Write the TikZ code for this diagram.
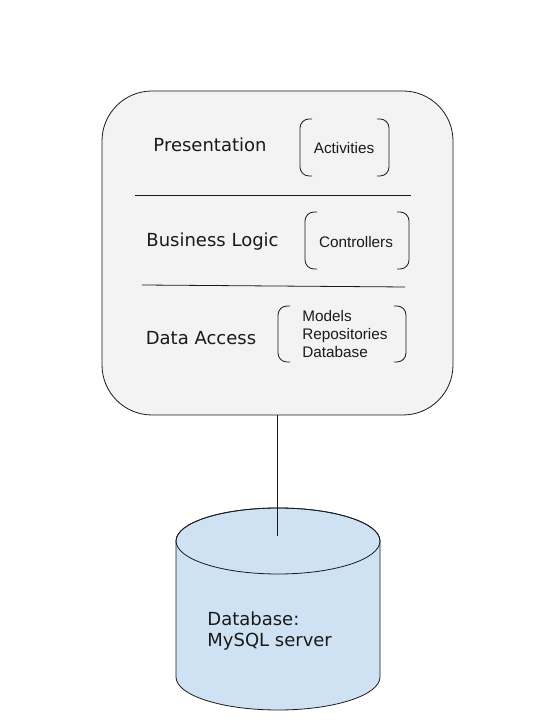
\documentclass[tikz,border=0pt]{standalone}
\usepackage{fontspec}
\newfontfamily\layerfont{DejaVu Sans}
\newfontfamily\itemfont{Liberation Sans}
\definecolor{boxgray}{HTML}{F3F3F3}
\definecolor{dbblue}{HTML}{CFE2F3}
\definecolor{inkc}{HTML}{1A1A1A}
\begin{document}
\begin{tikzpicture}[x=1pt,y=1pt,
  line width=0.8pt,
  appbox/.style={draw=inkc,fill=boxgray,rounded corners=50pt,minimum width=351pt,minimum height=324pt,inner sep=0pt},
  layer/.style={font=\layerfont\fontsize{18}{21}\selectfont,text=inkc,inner sep=0pt},
  item/.style={font=\itemfont\fontsize{15.3}{18}\selectfont,text=inkc,inner sep=0pt,align=left},
  divider/.style={draw=inkc,line width=0.8pt},
  brk/.style={draw=inkc,rounded corners=9pt,line width=0.8pt},
  dbshape/.style={draw=inkc,fill=dbblue,line width=0.8pt},
  dblabel/.style={font=\layerfont\fontsize{18}{21}\selectfont,text=inkc,inner sep=0pt,align=left,anchor=north west}
]
\useasboundingbox (0,0) rectangle (547,727);
\fill[white] (0,0) rectangle (547,727);

% main application box
\node[appbox] (app) at (277.5,474) {};

% dividers
\coordinate (d1l) at (135,532);
\coordinate (d1r) at (411,532);
\coordinate (d2l) at (142,442);
\coordinate (d2r) at (405,440);
\draw[divider] (d1l) -- (d1r);
\draw[divider] (d2l) -- (d2r);

% layer labels
\node[layer] (pres) at (210,582) {Presentation};
\node[layer] (bl) at (212.5,485) {Business Logic};
\node[layer] (da) at (201,389) {Data Access};

% brackets
\newcommand{\bracketpair}[4]{%
  \draw[brk] (#1+12,#2) -- (#1,#2) -- (#1,#4) -- (#1+12,#4);
  \draw[brk] (#3-12,#2) -- (#3,#2) -- (#3,#4) -- (#3-12,#4);}
\bracketpair{300}{608}{389}{551}
\bracketpair{305}{515}{409}{458}
\bracketpair{278}{421}{406}{365}

\node[item] (act) at (344,579) {Activities};
\node[item] (ctl) at (356,485) {Controllers};
\node[item,anchor=west] (dal) at (302,393) {Models\\Repositories\\Database};

% database cylinder
\path[dbshape] (176,186) -- (176,50) arc[start angle=180,end angle=360,x radius=102,y radius=33]
  -- (380,186) arc[start angle=0,end angle=180,x radius=102,y radius=33] -- cycle;
\draw[draw=inkc,line width=0.8pt] (278,186) ellipse[x radius=102,y radius=33];
\node[dblabel] (db) at (207,116) {Database:\\MySQL server};

% connector
\coordinate (dbend) at (278,191);
\draw[divider] (app.south) -- (app.south |- dbend);
\end{tikzpicture}
\end{document}
